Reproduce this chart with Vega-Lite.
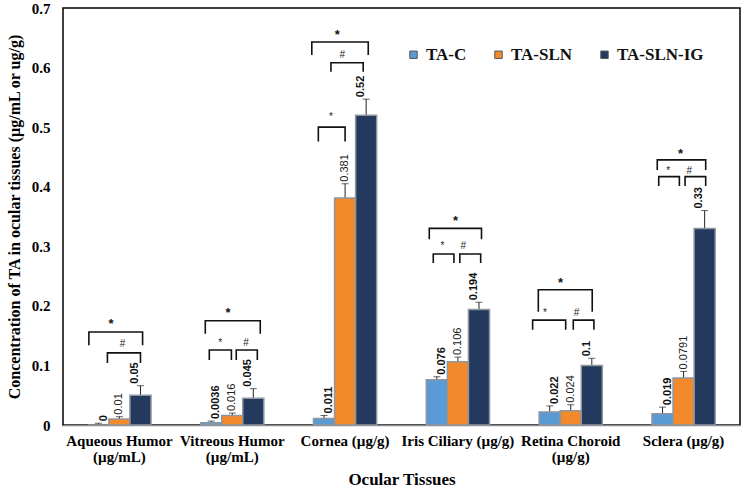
{
  "$schema": "https://vega.github.io/schema/vega-lite/v6.json",
  "width": 677,
  "height": 417,
  "autosize": {"type": "none"},
  "padding": {"left": 63, "top": 8, "right": 6, "bottom": 67},
  "background": "white",
  "config": {
    "view": {"stroke": "#000", "strokeWidth": 1.5},
    "font": "Liberation Serif"
  },
  "datasets": {
    "bars": [
      {"group": "Aqueous Humor (µg/mL)", "series": "TA-C", "value": 0, "upper": 0.003},
      {"group": "Aqueous Humor (µg/mL)", "series": "TA-SLN", "value": 0.01, "upper": 0.014},
      {"group": "Aqueous Humor (µg/mL)", "series": "TA-SLN-IG", "value": 0.05, "upper": 0.066},
      {"group": "Vitreous Humor (µg/mL)", "series": "TA-C", "value": 0.0036, "upper": 0.0066},
      {"group": "Vitreous Humor (µg/mL)", "series": "TA-SLN", "value": 0.016, "upper": 0.02},
      {"group": "Vitreous Humor (µg/mL)", "series": "TA-SLN-IG", "value": 0.045, "upper": 0.061},
      {"group": "Cornea (µg/g)", "series": "TA-C", "value": 0.011, "upper": 0.016},
      {"group": "Cornea (µg/g)", "series": "TA-SLN", "value": 0.381, "upper": 0.405},
      {"group": "Cornea (µg/g)", "series": "TA-SLN-IG", "value": 0.52, "upper": 0.547},
      {"group": "Iris Ciliary (µg/g)", "series": "TA-C", "value": 0.076, "upper": 0.081},
      {"group": "Iris Ciliary (µg/g)", "series": "TA-SLN", "value": 0.106, "upper": 0.114},
      {"group": "Iris Ciliary (µg/g)", "series": "TA-SLN-IG", "value": 0.194, "upper": 0.206},
      {"group": "Retina Choroid (µg/g)", "series": "TA-C", "value": 0.022, "upper": 0.032},
      {"group": "Retina Choroid (µg/g)", "series": "TA-SLN", "value": 0.024, "upper": 0.034},
      {"group": "Retina Choroid (µg/g)", "series": "TA-SLN-IG", "value": 0.1, "upper": 0.112},
      {"group": "Sclera (µg/g)", "series": "TA-C", "value": 0.019, "upper": 0.03},
      {"group": "Sclera (µg/g)", "series": "TA-SLN", "value": 0.0791, "upper": 0.09},
      {"group": "Sclera (µg/g)", "series": "TA-SLN-IG", "value": 0.33, "upper": 0.36}
    ],
    "brackets": [
      {"group": "Aqueous Humor (µg/mL)", "id": "A1", "pt": 1, "u": -0.45, "y": 0.134},
      {"group": "Aqueous Humor (µg/mL)", "id": "A1", "pt": 2, "u": -0.45, "y": 0.156},
      {"group": "Aqueous Humor (µg/mL)", "id": "A1", "pt": 3, "u": 2.1, "y": 0.156},
      {"group": "Aqueous Humor (µg/mL)", "id": "A1", "pt": 4, "u": 2.1, "y": 0.134},
      {"group": "Aqueous Humor (µg/mL)", "id": "A2", "pt": 1, "u": 0.43, "y": 0.104},
      {"group": "Aqueous Humor (µg/mL)", "id": "A2", "pt": 2, "u": 0.43, "y": 0.121},
      {"group": "Aqueous Humor (µg/mL)", "id": "A2", "pt": 3, "u": 2.0, "y": 0.121},
      {"group": "Aqueous Humor (µg/mL)", "id": "A2", "pt": 4, "u": 2.0, "y": 0.104},
      {"group": "Vitreous Humor (µg/mL)", "id": "V1", "pt": 1, "u": -0.28, "y": 0.153},
      {"group": "Vitreous Humor (µg/mL)", "id": "V1", "pt": 2, "u": -0.28, "y": 0.175},
      {"group": "Vitreous Humor (µg/mL)", "id": "V1", "pt": 3, "u": 2.33, "y": 0.175},
      {"group": "Vitreous Humor (µg/mL)", "id": "V1", "pt": 4, "u": 2.33, "y": 0.153},
      {"group": "Vitreous Humor (µg/mL)", "id": "V2", "pt": 1, "u": -0.09, "y": 0.109},
      {"group": "Vitreous Humor (µg/mL)", "id": "V2", "pt": 2, "u": -0.09, "y": 0.126},
      {"group": "Vitreous Humor (µg/mL)", "id": "V2", "pt": 3, "u": 0.96, "y": 0.126},
      {"group": "Vitreous Humor (µg/mL)", "id": "V2", "pt": 4, "u": 0.96, "y": 0.109},
      {"group": "Vitreous Humor (µg/mL)", "id": "V3", "pt": 1, "u": 1.19, "y": 0.109},
      {"group": "Vitreous Humor (µg/mL)", "id": "V3", "pt": 2, "u": 1.19, "y": 0.126},
      {"group": "Vitreous Humor (µg/mL)", "id": "V3", "pt": 3, "u": 2.19, "y": 0.126},
      {"group": "Vitreous Humor (µg/mL)", "id": "V3", "pt": 4, "u": 2.19, "y": 0.109},
      {"group": "Cornea (µg/g)", "id": "C1", "pt": 1, "u": -0.58, "y": 0.621},
      {"group": "Cornea (µg/g)", "id": "C1", "pt": 2, "u": -0.58, "y": 0.643},
      {"group": "Cornea (µg/g)", "id": "C1", "pt": 3, "u": 2.1, "y": 0.643},
      {"group": "Cornea (µg/g)", "id": "C1", "pt": 4, "u": 2.1, "y": 0.621},
      {"group": "Cornea (µg/g)", "id": "C2", "pt": 1, "u": 0.33, "y": 0.593},
      {"group": "Cornea (µg/g)", "id": "C2", "pt": 2, "u": 0.33, "y": 0.608},
      {"group": "Cornea (µg/g)", "id": "C2", "pt": 3, "u": 1.86, "y": 0.608},
      {"group": "Cornea (µg/g)", "id": "C2", "pt": 4, "u": 1.86, "y": 0.593},
      {"group": "Cornea (µg/g)", "id": "C3", "pt": 1, "u": -0.27, "y": 0.476},
      {"group": "Cornea (µg/g)", "id": "C3", "pt": 2, "u": -0.27, "y": 0.5},
      {"group": "Cornea (µg/g)", "id": "C3", "pt": 3, "u": 1.0, "y": 0.5},
      {"group": "Cornea (µg/g)", "id": "C3", "pt": 4, "u": 1.0, "y": 0.476},
      {"group": "Iris Ciliary (µg/g)", "id": "I1", "pt": 1, "u": -0.36, "y": 0.312},
      {"group": "Iris Ciliary (µg/g)", "id": "I1", "pt": 2, "u": -0.36, "y": 0.33},
      {"group": "Iris Ciliary (µg/g)", "id": "I1", "pt": 3, "u": 2.12, "y": 0.33},
      {"group": "Iris Ciliary (µg/g)", "id": "I1", "pt": 4, "u": 2.12, "y": 0.312},
      {"group": "Iris Ciliary (µg/g)", "id": "I2", "pt": 1, "u": -0.17, "y": 0.272},
      {"group": "Iris Ciliary (µg/g)", "id": "I2", "pt": 2, "u": -0.17, "y": 0.287},
      {"group": "Iris Ciliary (µg/g)", "id": "I2", "pt": 3, "u": 0.81, "y": 0.287},
      {"group": "Iris Ciliary (µg/g)", "id": "I2", "pt": 4, "u": 0.81, "y": 0.272},
      {"group": "Iris Ciliary (µg/g)", "id": "I3", "pt": 1, "u": 1.09, "y": 0.272},
      {"group": "Iris Ciliary (µg/g)", "id": "I3", "pt": 2, "u": 1.09, "y": 0.287},
      {"group": "Iris Ciliary (µg/g)", "id": "I3", "pt": 3, "u": 2.08, "y": 0.287},
      {"group": "Iris Ciliary (µg/g)", "id": "I3", "pt": 4, "u": 2.08, "y": 0.272},
      {"group": "Retina Choroid (µg/g)", "id": "R1", "pt": 1, "u": -0.54, "y": 0.19},
      {"group": "Retina Choroid (µg/g)", "id": "R1", "pt": 2, "u": -0.54, "y": 0.227},
      {"group": "Retina Choroid (µg/g)", "id": "R1", "pt": 3, "u": 2.02, "y": 0.227},
      {"group": "Retina Choroid (µg/g)", "id": "R1", "pt": 4, "u": 2.02, "y": 0.19},
      {"group": "Retina Choroid (µg/g)", "id": "R2", "pt": 1, "u": -0.81, "y": 0.16},
      {"group": "Retina Choroid (µg/g)", "id": "R2", "pt": 2, "u": -0.81, "y": 0.176},
      {"group": "Retina Choroid (µg/g)", "id": "R2", "pt": 3, "u": 0.76, "y": 0.176},
      {"group": "Retina Choroid (µg/g)", "id": "R2", "pt": 4, "u": 0.76, "y": 0.16},
      {"group": "Retina Choroid (µg/g)", "id": "R3", "pt": 1, "u": 1.12, "y": 0.16},
      {"group": "Retina Choroid (µg/g)", "id": "R3", "pt": 2, "u": 1.12, "y": 0.176},
      {"group": "Retina Choroid (µg/g)", "id": "R3", "pt": 3, "u": 2.1, "y": 0.176},
      {"group": "Retina Choroid (µg/g)", "id": "R3", "pt": 4, "u": 2.1, "y": 0.16},
      {"group": "Sclera (µg/g)", "id": "S1", "pt": 1, "u": -0.25, "y": 0.428},
      {"group": "Sclera (µg/g)", "id": "S1", "pt": 2, "u": -0.25, "y": 0.445},
      {"group": "Sclera (µg/g)", "id": "S1", "pt": 3, "u": 2.05, "y": 0.445},
      {"group": "Sclera (µg/g)", "id": "S1", "pt": 4, "u": 2.05, "y": 0.428},
      {"group": "Sclera (µg/g)", "id": "S2", "pt": 1, "u": -0.18, "y": 0.401},
      {"group": "Sclera (µg/g)", "id": "S2", "pt": 2, "u": -0.18, "y": 0.417},
      {"group": "Sclera (µg/g)", "id": "S2", "pt": 3, "u": 0.8, "y": 0.417},
      {"group": "Sclera (µg/g)", "id": "S2", "pt": 4, "u": 0.8, "y": 0.401},
      {"group": "Sclera (µg/g)", "id": "S3", "pt": 1, "u": 1.07, "y": 0.401},
      {"group": "Sclera (µg/g)", "id": "S3", "pt": 2, "u": 1.07, "y": 0.417},
      {"group": "Sclera (µg/g)", "id": "S3", "pt": 3, "u": 2.05, "y": 0.417},
      {"group": "Sclera (µg/g)", "id": "S3", "pt": 4, "u": 2.05, "y": 0.401}
    ],
    "symbols": [
      {"group": "Aqueous Humor (µg/mL)", "kind": "overall", "sym": "*", "u": 0.6, "y": 0.175},
      {"group": "Aqueous Humor (µg/mL)", "kind": "pair", "sym": "#", "u": 1.15, "y": 0.137},
      {"group": "Vitreous Humor (µg/mL)", "kind": "overall", "sym": "*", "u": 0.8, "y": 0.193},
      {"group": "Vitreous Humor (µg/mL)", "kind": "pair", "sym": "*", "u": 0.43, "y": 0.14},
      {"group": "Vitreous Humor (µg/mL)", "kind": "pair", "sym": "#", "u": 1.65, "y": 0.14},
      {"group": "Cornea (µg/g)", "kind": "overall", "sym": "*", "u": 0.63, "y": 0.659},
      {"group": "Cornea (µg/g)", "kind": "pair", "sym": "#", "u": 0.87, "y": 0.622},
      {"group": "Cornea (µg/g)", "kind": "pair", "sym": "*", "u": 0.33, "y": 0.518},
      {"group": "Iris Ciliary (µg/g)", "kind": "overall", "sym": "*", "u": 0.89, "y": 0.348},
      {"group": "Iris Ciliary (µg/g)", "kind": "pair", "sym": "*", "u": 0.27, "y": 0.302},
      {"group": "Iris Ciliary (µg/g)", "kind": "pair", "sym": "#", "u": 1.25, "y": 0.302},
      {"group": "Retina Choroid (µg/g)", "kind": "overall", "sym": "*", "u": 0.52, "y": 0.243},
      {"group": "Retina Choroid (µg/g)", "kind": "pair", "sym": "*", "u": -0.22, "y": 0.19},
      {"group": "Retina Choroid (µg/g)", "kind": "pair", "sym": "#", "u": 1.28, "y": 0.19},
      {"group": "Sclera (µg/g)", "kind": "overall", "sym": "*", "u": 0.86, "y": 0.46},
      {"group": "Sclera (µg/g)", "kind": "pair", "sym": "*", "u": 0.27, "y": 0.428},
      {"group": "Sclera (µg/g)", "kind": "pair", "sym": "#", "u": 1.27, "y": 0.428}
    ]
  },
  "encoding": {
    "x": {
      "field": "group",
      "type": "nominal",
      "sort": ["Aqueous Humor (µg/mL)", "Vitreous Humor (µg/mL)", "Cornea (µg/g)", "Iris Ciliary (µg/g)", "Retina Choroid (µg/g)", "Sclera (µg/g)"],
      "scale": {"paddingInner": 0.44, "paddingOuter": 0.22},
      "axis": {
        "title": "Ocular Tissues",
        "titleFont": "Liberation Serif",
        "titleFontSize": 17,
        "titleFontWeight": "bold",
        "titleColor": "#000",
        "titlePadding": 7,
        "labelAngle": 0,
        "labelFont": "Liberation Serif",
        "labelFontSize": 15,
        "labelFontWeight": "bold",
        "labelColor": "#000",
        "labelPadding": 8,
        "labelLineHeight": 16,
        "labelExpr": "datum.value == 'Aqueous Humor (µg/mL)' ? ['Aqueous Humor', '(µg/mL)'] : datum.value == 'Vitreous Humor (µg/mL)' ? ['Vitreous Humor', '(µg/mL)'] : datum.value == 'Retina Choroid (µg/g)' ? ['Retina Choroid', '(µg/g)'] : datum.value",
        "ticks": false,
        "domainColor": "#8c8c8c",
        "domainWidth": 1.5,
        "grid": false
      }
    }
  },
  "layer": [
    {
      "data": {"name": "bars"},
      "mark": {"type": "rule", "color": "#222", "strokeWidth": 1},
      "encoding": {
        "xOffset": {"field": "series", "type": "nominal", "sort": ["TA-C", "TA-SLN", "TA-SLN-IG"]},
        "y": {"field": "value", "type": "quantitative"},
        "y2": {"field": "upper"}
      }
    },
    {
      "data": {"name": "bars"},
      "mark": {"type": "tick", "color": "#222", "size": 7, "thickness": 1},
      "encoding": {
        "xOffset": {"field": "series", "type": "nominal", "sort": ["TA-C", "TA-SLN", "TA-SLN-IG"]},
        "y": {"field": "upper", "type": "quantitative"}
      }
    },
    {
      "data": {"name": "bars"},
      "mark": {"type": "bar", "stroke": "#8e969f", "strokeWidth": 1.5},
      "encoding": {
        "xOffset": {"field": "series", "type": "nominal", "sort": ["TA-C", "TA-SLN", "TA-SLN-IG"]},
        "y": {
          "field": "value",
          "type": "quantitative",
          "scale": {"domain": [0, 0.7], "nice": false},
          "axis": {
            "title": "Concentration  of TA in ocular tissues (µg/mL or ug/g)",
            "titleFont": "Liberation Serif",
            "titleFontSize": 16,
            "titleFontWeight": "bold",
            "titleColor": "#000",
            "titlePadding": 9,
            "values": [0, 0.1, 0.2, 0.3, 0.4, 0.5, 0.6, 0.7],
            "format": ".1~f",
            "labelFont": "Liberation Serif",
            "labelFontSize": 15,
            "labelFontWeight": "bold",
            "labelColor": "#000",
            "labelPadding": 13,
            "ticks": false,
            "domain": false,
            "grid": false
          }
        },
        "color": {
          "field": "series",
          "type": "nominal",
          "sort": ["TA-C", "TA-SLN", "TA-SLN-IG"],
          "scale": {"domain": ["TA-C", "TA-SLN", "TA-SLN-IG"], "range": ["#5b9bd5", "#f28a2c", "#23395d"]},
          "legend": {
            "orient": "none",
            "legendX": 342,
            "legendY": 38,
            "direction": "horizontal",
            "title": null,
            "symbolType": "square",
            "symbolSize": 55,
            "symbolStrokeColor": "#555",
            "symbolStrokeWidth": 1,
            "labelFont": "Liberation Serif",
            "labelFontSize": 17,
            "labelFontWeight": "bold",
            "labelColor": "#111",
            "labelOffset": 4,
            "columnPadding": 23,
            "padding": 0
          }
        }
      }
    },
    {
      "data": {"name": "bars"},
      "transform": [{"filter": "datum.series != 'TA-SLN'"}],
      "mark": {"type": "text", "angle": 270, "align": "left", "baseline": "middle", "dx": 2, "font": "Liberation Sans", "fontSize": 11, "fontWeight": "bold", "color": "#111"},
      "encoding": {
        "xOffset": {"field": "series", "type": "nominal", "sort": ["TA-C", "TA-SLN", "TA-SLN-IG"]},
        "y": {"field": "upper", "type": "quantitative"},
        "text": {"field": "value", "type": "quantitative"}
      }
    },
    {
      "data": {"name": "bars"},
      "transform": [{"filter": "datum.series == 'TA-SLN'"}],
      "mark": {"type": "text", "angle": 270, "align": "left", "baseline": "middle", "dx": 2, "font": "Liberation Sans", "fontSize": 11, "color": "#222"},
      "encoding": {
        "xOffset": {"field": "series", "type": "nominal", "sort": ["TA-C", "TA-SLN", "TA-SLN-IG"]},
        "y": {"field": "upper", "type": "quantitative"},
        "text": {"field": "value", "type": "quantitative"}
      }
    },
    {
      "data": {"name": "brackets"},
      "mark": {"type": "line", "color": "#111", "strokeWidth": 1.6, "interpolate": "linear"},
      "encoding": {
        "xOffset": {"field": "u", "type": "quantitative", "scale": {"domain": [-0.5, 2.5], "nice": false, "zero": false}},
        "y": {"field": "y", "type": "quantitative"},
        "detail": {"field": "id", "type": "nominal"},
        "order": {"field": "pt", "type": "quantitative"}
      }
    },
    {
      "data": {"name": "symbols"},
      "transform": [{"filter": "datum.kind == 'overall'"}],
      "mark": {"type": "text", "font": "Liberation Sans", "fontSize": 13, "fontWeight": "bold", "baseline": "middle", "dy": 3, "color": "#111"},
      "encoding": {
        "xOffset": {"field": "u", "type": "quantitative", "scale": {"domain": [-0.5, 2.5], "nice": false, "zero": false}},
        "y": {"field": "y", "type": "quantitative"},
        "text": {"field": "sym", "type": "nominal"}
      }
    },
    {
      "data": {"name": "symbols"},
      "transform": [{"filter": "datum.kind == 'pair'"}],
      "mark": {"type": "text", "font": "Liberation Sans", "fontSize": 10, "baseline": "middle", "dy": 1, "color": "#222"},
      "encoding": {
        "xOffset": {"field": "u", "type": "quantitative", "scale": {"domain": [-0.5, 2.5], "nice": false, "zero": false}},
        "y": {"field": "y", "type": "quantitative"},
        "text": {"field": "sym", "type": "nominal"}
      }
    }
  ],
  "resolve": {"scale": {"xOffset": "independent"}}
}
